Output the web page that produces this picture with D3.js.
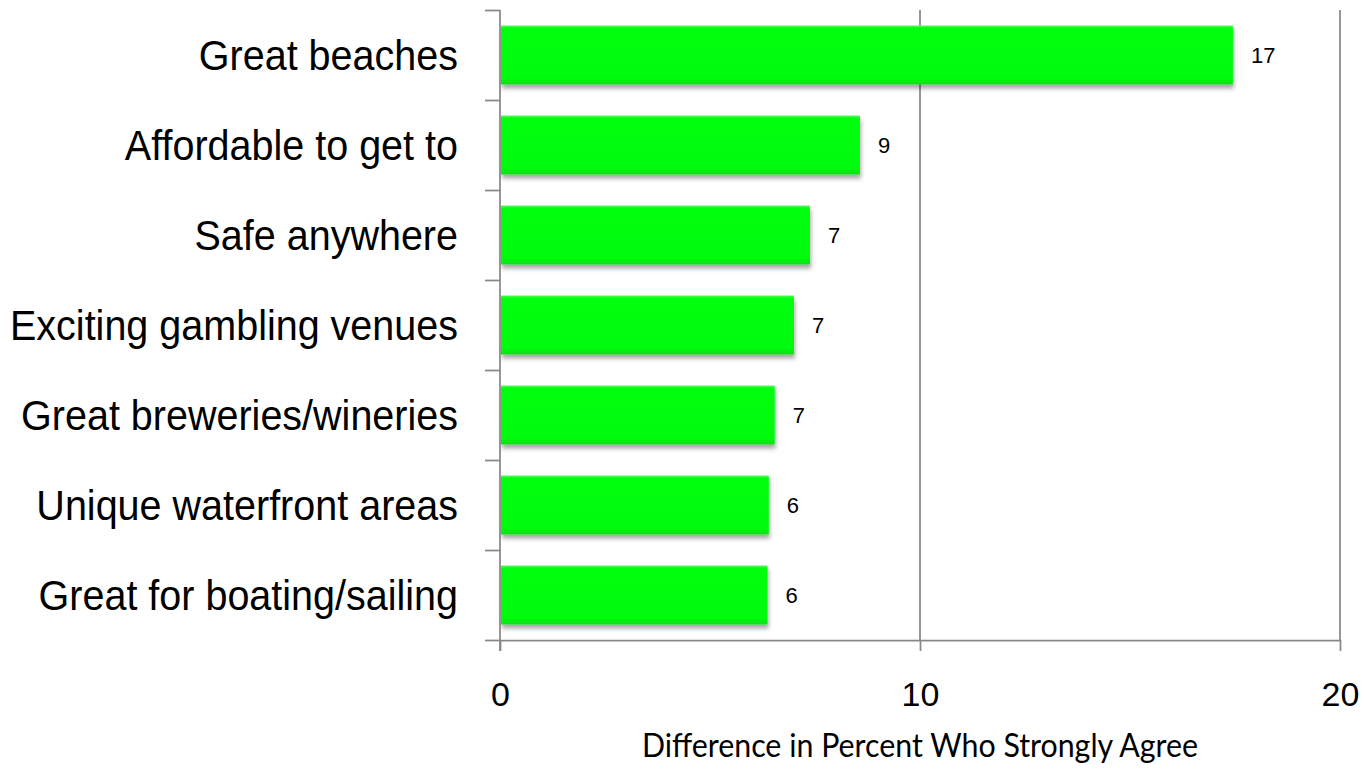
<!DOCTYPE html>
<html>
<head>
<meta charset="utf-8">
<script src="https://cdn.jsdelivr.net/npm/d3@7"></script>
<style>
  html, body { margin: 0; padding: 0; background: #fff; }
  svg { display: block; }
</style>
</head>
<body>
<svg id="chart" width="1365" height="770"></svg>
<script>
const categories = [
  "Great beaches",
  "Affordable to get to",
  "Safe anywhere",
  "Exciting gambling venues",
  "Great breweries/wineries",
  "Unique waterfront areas",
  "Great for boating/sailing"
];
const values = [17.45, 8.57, 7.38, 7.0, 6.54, 6.4, 6.37];
const valueLabels = ["17", "9", "7", "7", "7", "6", "6"];
const xTicks = [0, 10, 20];
const xTitle = "Difference in Percent Who Strongly Agree";

(function() {
const svg = d3.select("#chart");
const pLeft = 500, pRight = 1340, pTop = 10, pBottom = 640;
const axisColor = "#888888";

const x = d3.scaleLinear().domain([0, 20]).range([pLeft, pRight]);
const y = d3.scaleBand().domain(categories).range([pTop, pBottom])
  .paddingInner(0.345).paddingOuter(0.1725);
const yBound = d3.scaleLinear().domain([0, categories.length]).range([pTop, pBottom]);

// defs: gradient + shadow
const defs = svg.append("defs");
const grad = defs.append("linearGradient").attr("id", "barGrad")
  .attr("x1", 0).attr("y1", 0).attr("x2", 0).attr("y2", 1);
grad.append("stop").attr("offset", "0%").attr("stop-color", "#4dff55");
grad.append("stop").attr("offset", "5%").attr("stop-color", "#05ff10");
grad.append("stop").attr("offset", "90%").attr("stop-color", "#00fb0c");
grad.append("stop").attr("offset", "100%").attr("stop-color", "#12dc1c");
const f = defs.append("filter").attr("id", "shadow")
  .attr("x", "-5%").attr("y", "-20%").attr("width", "115%").attr("height", "150%");
f.append("feDropShadow").attr("dx", 1).attr("dy", 4).attr("stdDeviation", 2.2)
  .attr("flood-color", "#000").attr("flood-opacity", 0.35);

// gridlines
svg.append("g").selectAll("line").data(xTicks.filter(d => d > 0)).join("line")
  .attr("x1", d => x(d)).attr("x2", d => x(d))
  .attr("y1", pTop).attr("y2", pBottom)
  .attr("stroke", axisColor).attr("stroke-width", 1.75);

// bars
svg.append("g").selectAll("rect").data(categories).join("rect")
  .attr("x", x(0) + 1)
  .attr("y", d => y(d))
  .attr("width", (d, i) => x(values[i]) - x(0) - 1)
  .attr("height", y.bandwidth())
  .attr("fill", "url(#barGrad)")
  .attr("filter", "url(#shadow)");

// value labels
svg.append("g").selectAll("text").data(categories).join("text")
  .attr("x", (d, i) => x(values[i]) + 18)
  .attr("y", d => y(d) + y.bandwidth() / 2 + 8)
  .attr("font-family", "'Liberation Sans', Arial, sans-serif")
  .attr("font-size", 22)
  .attr("fill", "#000")
  .text((d, i) => valueLabels[i]);

// left axis (ticks at band boundaries)
const yAxis = svg.append("g").attr("transform", `translate(${pLeft},0)`)
  .call(d3.axisLeft(yBound).tickValues(d3.range(categories.length + 1))
    .tickSize(15).tickSizeOuter(0).tickFormat(""));
yAxis.select(".domain").remove();
yAxis.selectAll("line").attr("stroke", axisColor).attr("stroke-width", 1.75);
svg.append("line").attr("x1", pLeft).attr("x2", pLeft).attr("y1", pTop).attr("y2", pBottom + 11)
  .attr("stroke", axisColor).attr("stroke-width", 1.75);

// bottom axis
const xAxis = svg.append("g").attr("transform", `translate(0,${pBottom})`)
  .call(d3.axisBottom(x).tickValues(xTicks).tickSize(11).tickSizeOuter(0).tickPadding(31));
xAxis.select(".domain").attr("stroke", axisColor).attr("stroke-width", 1.75);
xAxis.selectAll("line").attr("stroke", axisColor).attr("stroke-width", 1.75);
xAxis.selectAll("text")
  .attr("font-family", "'Liberation Sans', Arial, sans-serif")
  .attr("font-size", 34).attr("fill", "#000");

// category labels
const catText = svg.append("g").selectAll("text").data(categories).join("text")
  .attr("x", 458)
  .attr("y", d => y(d) + y.bandwidth() / 2 + 15)
  .attr("text-anchor", "end")
  .attr("font-family", "'Liberation Sans', Arial, sans-serif")
  .attr("font-size", 42)
  .attr("fill", "#000")
  .text(d => d);
let widest = 0;
catText.each(function() { widest = Math.max(widest, this.getComputedTextLength()); });
const squeeze = 448 / widest;
catText.each(function() {
  const w = this.getComputedTextLength();
  d3.select(this).attr("textLength", w * squeeze).attr("lengthAdjust", "spacingAndGlyphs");
});

// x title (centered on plot area)
svg.append("text")
  .attr("x", (pLeft + pRight) / 2).attr("y", 757)
  .attr("text-anchor", "middle")
  .attr("font-family", "Lato, 'Open Sans', sans-serif")
  .attr("font-size", 33)
  .attr("fill", "#000")
  .attr("textLength", 556).attr("lengthAdjust", "spacingAndGlyphs")
  .text(xTitle);
})();
</script>
</body>
</html>
